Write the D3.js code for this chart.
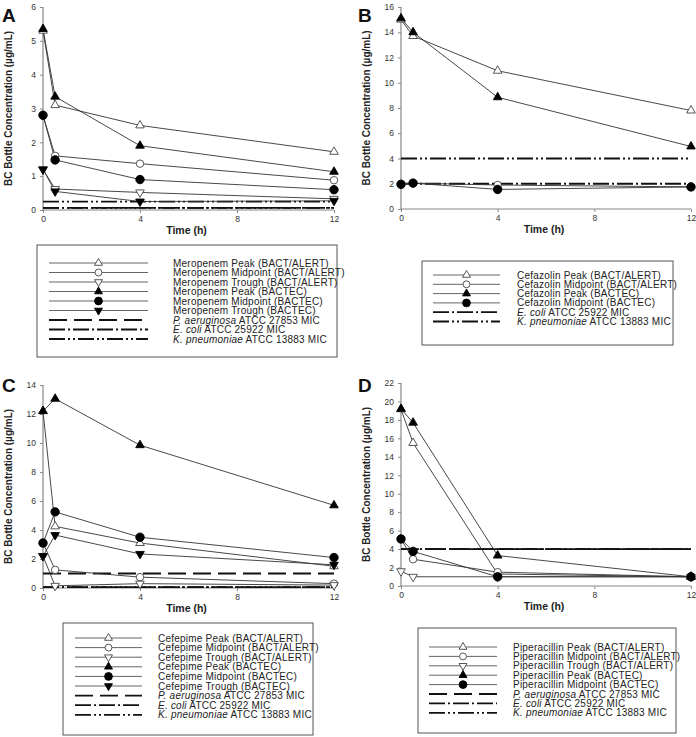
<!DOCTYPE html>
<html><head><meta charset="utf-8">
<script src="https://cdn.jsdelivr.net/npm/d3@7"></script>
<style>body{margin:0;background:#fff}svg{display:block;font-family:"Liberation Sans",Arial,sans-serif}</style>
</head><body><svg id="c" width="696" height="737"></svg>
<script>
const times = [0, 0.5, 4, 12];
const xTicks = [0, 4, 8, 12];

// Panel A – Meropenem
const meroPeakBA = [5.3, 3.1, 2.5, 1.72];
const meroMidBA = [2.8, 1.6, 1.37, 0.88];
const meroTroughBA = [1.2, 0.62, 0.52, 0.33];
const meroPeakBT = [5.35, 3.35, 1.9, 1.13];
const meroMidBT = [2.8, 1.48, 0.9, 0.6];
const meroTroughBT = [1.2, 0.55, 0.25, 0.27];
const meroMIC = [0.25, 0.06, 0.06];

// Panel B – Cefazolin
const cefzPeakBA = [15.0, 13.7, 10.95, 7.8];
const cefzMidBA = [2.0, 2.05, 1.9, 1.75];
const cefzPeakBT = [15.1, 14.0, 8.85, 4.95];
const cefzMidBT = [1.95, 2.05, 1.55, 1.75];
const cefzMIC = [2, 4];

// Panel C – Cefepime
const cefePeakBA = [12.2, 4.25, 3.1, 1.5];
const cefeMidBA = [3.1, 1.25, 0.75, 0.3];
const cefeTroughBA = [2.2, 0.15, 0.3, 0.2];
const cefePeakBT = [12.2, 13.05, 9.85, 5.7];
const cefeMidBT = [3.1, 5.25, 3.5, 2.1];
const cefeTroughBT = [2.2, 3.65, 2.35, 1.6];
const cefeMIC = [1, 0.06, 0.06];

// Panel D – Piperacillin
const pipPeakBA = [19.15, 15.5, 1.3, 1.0];
const pipMidBA = [5.1, 2.9, 1.5, 1.0];
const pipTroughBA = [1.6, 1.0, 1.0, 1.0];
const pipPeakBT = [19.2, 17.7, 3.3, 1.0];
const pipMidBT = [5.1, 3.75, 1.0, 1.0];
const pipMIC = [4, 4, 4];

const SYM = {
  triUp: {shape: d3.symbolTriangle, fill: false, rot: 0},
  circ: {shape: d3.symbolCircle, fill: false, rot: 0},
  triDn: {shape: d3.symbolTriangle, fill: false, rot: 180},
  triUpF: {shape: d3.symbolTriangle, fill: true, rot: 0},
  circF: {shape: d3.symbolCircle, fill: true, rot: 0},
  triDnF: {shape: d3.symbolTriangle, fill: true, rot: 180}
};
const DASH = {
  pa: "18,7",
  ec: "16,3,2,3",
  kp: "16,3,2,3,2,3"
};

const svg = d3.select("#c");

function marker(g, key, x, y, k) {
  const s = SYM[key];
  k = k || 1;
  const size = (s.shape === d3.symbolCircle ? (s.fill ? 56 : 44) : 32) * k;
  g.append("path")
    .attr("d", d3.symbol().type(s.shape).size(size)())
    .attr("transform", `translate(${x},${y}) rotate(${s.rot})`)
    .attr("fill", s.fill ? "#000" : "#fff")
    .attr("stroke", s.fill ? "#000" : "#444")
    .attr("stroke-width", 0.9);
}

function panel(o) {
  const g = svg.append("g");
  const x = d3.scaleLinear().domain([0, 12]).range([o.x0, o.x1]);
  const y = d3.scaleLinear().domain([0, o.yMax]).range([o.yb, o.yt]);
  const yTicks = d3.range(0, o.yMax + 0.001, o.step);

  const ya = g.append("g").attr("transform", `translate(${o.x0},0)`)
    .call(d3.axisLeft(y).tickValues(yTicks).tickSize(3).tickPadding(4).tickFormat(d3.format("d")));
  const xa = g.append("g").attr("transform", `translate(0,${o.yb})`)
    .call(d3.axisBottom(x).tickValues(xTicks).tickSize(3).tickPadding(3).tickFormat(d3.format("d")));
  [ya, xa].forEach(a => {
    a.select(".domain").attr("stroke", "#888").attr("stroke-width", 1.2)
      .attr("d", a === ya ? `M0,${o.yb}V${o.yt}` : `M${o.x0},0H${o.x1}`);
    a.selectAll(".tick line").attr("stroke", "#888");
    a.selectAll(".tick text").attr("font-size", 8.5).attr("fill", "#333").attr("font-family", "Liberation Sans, Arial, sans-serif");
  });

  g.append("text").attr("x", o.lx).attr("y", o.ly).text(o.letter)
    .attr("font-size", 19).attr("font-weight", "bold").attr("fill", "#111");
  g.append("text").attr("transform", `translate(${o.x0 - 31},${(o.yt + o.yb) / 2}) rotate(-90)`)
    .attr("text-anchor", "middle").attr("font-size", 10).attr("font-weight", "bold").attr("fill", "#222")
    .text("BC Bottle Concentration (µg/mL)");
  g.append("text").attr("x", (o.x0 + o.x1) / 2 - 2).attr("y", o.yb + 24)
    .attr("text-anchor", "middle").attr("font-size", 10.5).attr("font-weight", "bold").attr("fill", "#222")
    .text("Time (h)");

  o.mic.forEach(m => {
    g.append("line").attr("x1", x(0)).attr("x2", x(12)).attr("y1", y(m.v)).attr("y2", y(m.v))
      .attr("stroke", "#111").attr("stroke-width", 1.8).attr("stroke-dasharray", DASH[m.d]);
  });
  const line = d3.line().x((d, i) => x(times[i])).y(d => y(d));
  o.series.forEach(s => {
    g.append("path").attr("d", line(s.v)).attr("fill", "none")
      .attr("stroke", "#333").attr("stroke-width", 0.9);
  });
  o.series.forEach(s => {
    s.v.forEach((v, i) => marker(g, s.m, x(times[i]), y(v)));
  });

  // legend
  const L = o.leg;
  g.append("rect").attr("x", L.x).attr("y", L.y).attr("width", L.w).attr("height", L.h)
    .attr("fill", "none").attr("stroke", "#555").attr("stroke-width", 1);
  const rows = o.series.map(s => ({type: "s", s})).concat(o.micLeg.map(m => ({type: "m", m})));
  rows.forEach((r, i) => {
    const yy = L.r0 + i * L.dy;
    if (r.type === "s") {
      g.append("line").attr("x1", L.sx0).attr("x2", L.sx1).attr("y1", yy).attr("y2", yy)
        .attr("stroke", "#555").attr("stroke-width", 0.9);
      marker(g, r.s.m, (L.sx0 + L.sx1) / 2, yy, 0.85);
      g.append("text").attr("x", L.tx).attr("y", yy + 3.5).attr("font-size", 10)
        .attr("letter-spacing", 0.22).attr("fill", "#222").text(r.s.name);
    } else {
      g.append("line").attr("x1", L.sx0).attr("x2", L.sx1).attr("y1", yy).attr("y2", yy)
        .attr("stroke", "#111").attr("stroke-width", 1.8).attr("stroke-dasharray", DASH[r.m.d]);
      const t = g.append("text").attr("x", L.tx).attr("y", yy + 3.5).attr("font-size", 10)
        .attr("letter-spacing", 0.22).attr("fill", "#222");
      t.append("tspan").attr("font-style", "italic").text(r.m.it);
      t.append("tspan").text(r.m.rest);
    }
  });
}

const micNames = {
  pa: {it: "P. aeruginosa", rest: " ATCC 27853 MIC", d: "pa"},
  ec: {it: "E. coli", rest: " ATCC 25922 MIC", d: "ec"},
  kp: {it: "K. pneumoniae", rest: " ATCC 13883 MIC", d: "kp"}
};

panel({
  letter: "A", lx: 2, ly: 22, x0: 43, x1: 334, yt: 7, yb: 210, yMax: 6, step: 1,
  series: [
    {name: "Meropenem Peak (BACT/ALERT)", v: meroPeakBA, m: "triUp"},
    {name: "Meropenem Midpoint (BACT/ALERT)", v: meroMidBA, m: "circ"},
    {name: "Meropenem Trough (BACT/ALERT)", v: meroTroughBA, m: "triDn"},
    {name: "Meropenem Peak (BACTEC)", v: meroPeakBT, m: "triUpF"},
    {name: "Meropenem Midpoint (BACTEC)", v: meroMidBT, m: "circF"},
    {name: "Meropenem Trough (BACTEC)", v: meroTroughBT, m: "triDnF"}
  ],
  mic: [{v: meroMIC[0], d: "kp"}, {v: meroMIC[1], d: "ec"}, {v: meroMIC[2], d: "kp"}],
  micLeg: [micNames.pa, micNames.ec, micNames.kp],
  leg: {x: 37, y: 245, w: 300, h: 112, r0: 263, dy: 9.5, sx0: 49, sx1: 148, tx: 173}
});

panel({
  letter: "B", lx: 358, ly: 22, x0: 401, x1: 691, yt: 7, yb: 209, yMax: 16, step: 2,
  series: [
    {name: "Cefazolin Peak (BACT/ALERT)", v: cefzPeakBA, m: "triUp"},
    {name: "Cefazolin Midpoint (BACT/ALERT)", v: cefzMidBA, m: "circ"},
    {name: "Cefazolin Peak (BACTEC)", v: cefzPeakBT, m: "triUpF"},
    {name: "Cefazolin Midpoint (BACTEC)", v: cefzMidBT, m: "circF"}
  ],
  mic: [{v: cefzMIC[0], d: "ec"}, {v: cefzMIC[1], d: "kp"}],
  micLeg: [micNames.ec, micNames.kp],
  leg: {x: 422, y: 261, w: 251, h: 84, r0: 275, dy: 9.3, sx0: 433, sx1: 500, tx: 517}
});

panel({
  letter: "C", lx: 2, ly: 392, x0: 43, x1: 334, yt: 385, yb: 588, yMax: 14, step: 2,
  series: [
    {name: "Cefepime Peak (BACT/ALERT)", v: cefePeakBA, m: "triUp"},
    {name: "Cefepime Midpoint (BACT/ALERT)", v: cefeMidBA, m: "circ"},
    {name: "Cefepime Trough (BACT/ALERT)", v: cefeTroughBA, m: "triDn"},
    {name: "Cefepime Peak (BACTEC)", v: cefePeakBT, m: "triUpF"},
    {name: "Cefepime Midpoint (BACTEC)", v: cefeMidBT, m: "circF"},
    {name: "Cefepime Trough (BACTEC)", v: cefeTroughBT, m: "triDnF"}
  ],
  mic: [{v: cefeMIC[0], d: "pa"}, {v: cefeMIC[1], d: "ec"}, {v: cefeMIC[2], d: "kp"}],
  micLeg: [micNames.pa, micNames.ec, micNames.kp],
  leg: {x: 63, y: 623, w: 250, h: 112, r0: 638, dy: 9.6, sx0: 75, sx1: 142, tx: 158}
});

panel({
  letter: "D", lx: 358, ly: 392, x0: 401, x1: 691, yt: 383, yb: 586, yMax: 22, step: 2,
  series: [
    {name: "Piperacillin Peak (BACT/ALERT)", v: pipPeakBA, m: "triUp"},
    {name: "Piperacillin Midpoint (BACT/ALERT)", v: pipMidBA, m: "circ"},
    {name: "Piperacillin Trough (BACT/ALERT)", v: pipTroughBA, m: "triDn"},
    {name: "Piperacillin Peak (BACTEC)", v: pipPeakBT, m: "triUpF"},
    {name: "Piperacillin Midpoint (BACTEC)", v: pipMidBT, m: "circF"}
  ],
  mic: [{v: pipMIC[0], d: "pa"}, {v: pipMIC[1], d: "ec"}, {v: pipMIC[2], d: "kp"}],
  micLeg: [micNames.pa, micNames.ec, micNames.kp],
  leg: {x: 418, y: 628, w: 258, h: 105, r0: 647, dy: 9.4, sx0: 429, sx1: 497, tx: 513}
});
</script></body></html>
